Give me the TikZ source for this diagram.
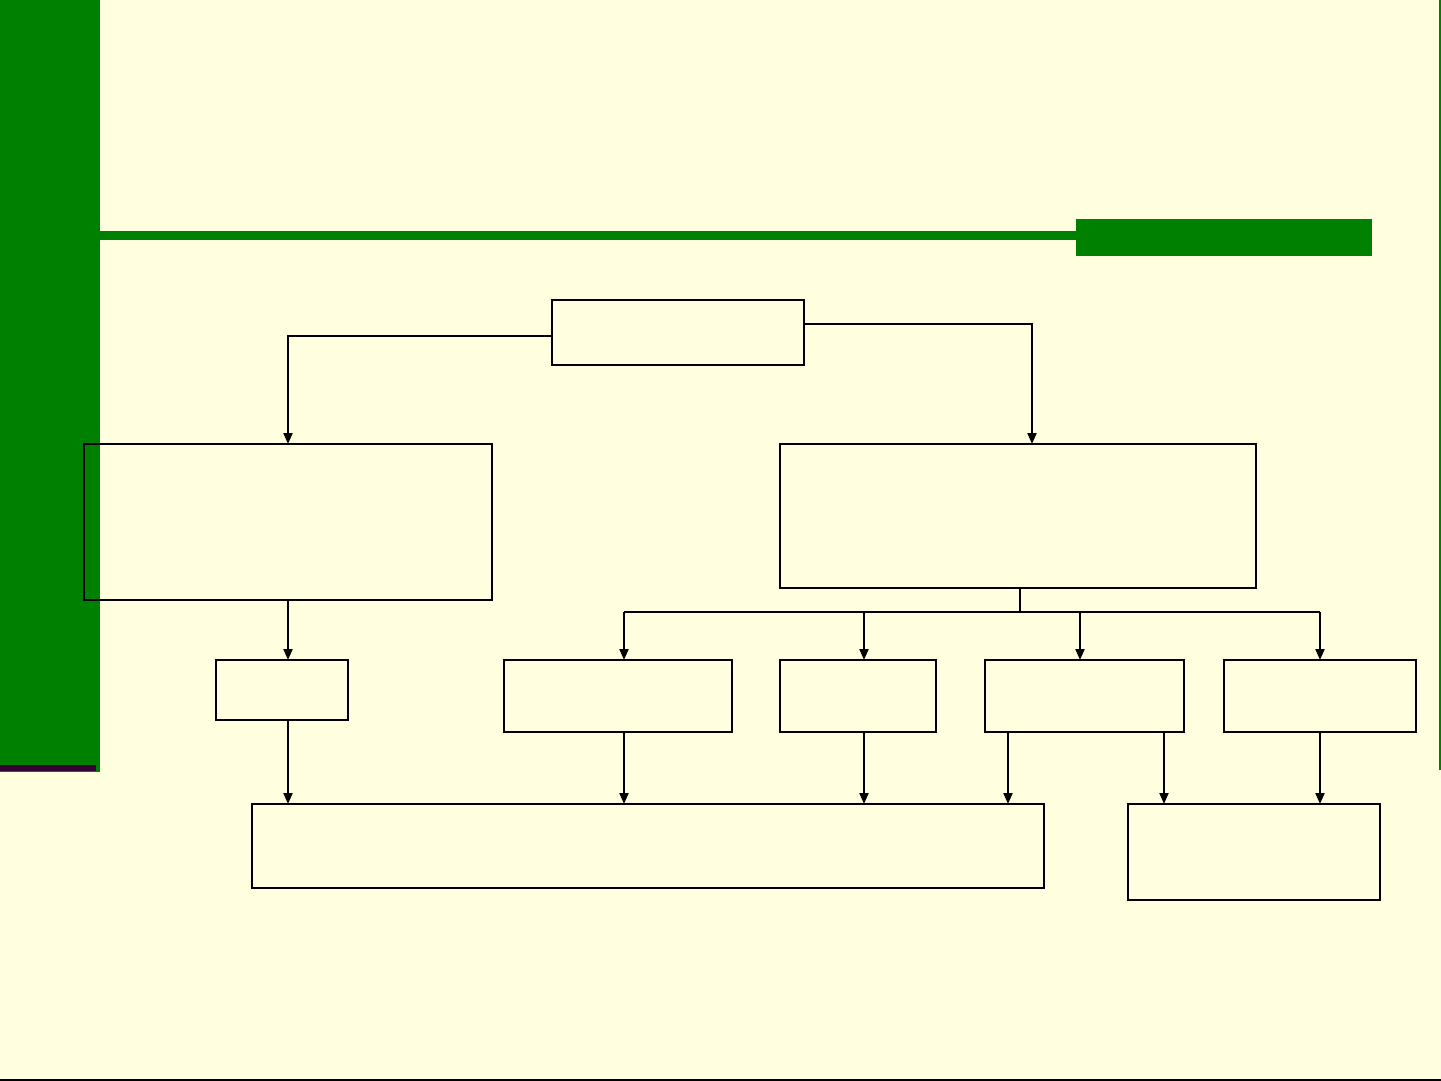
\documentclass[tikz,border=0pt]{standalone}
\usetikzlibrary{arrows.meta}
\definecolor{bg}{RGB}{255,255,224}
\definecolor{gr}{RGB}{0,128,0}
\definecolor{pu}{RGB}{51,0,51}
\begin{document}
\begin{tikzpicture}[x=1pt,y=-1pt,
  box/.style={draw=black,line width=2pt,rectangle,inner sep=0pt,outer sep=0pt,anchor=north west},
  ln/.style={draw=black,line width=2pt},
  arr/.style={ln,-{Triangle[length=11pt,width=9pt]}}]
\fill[bg] (0,0) rectangle (1441,1081);
\useasboundingbox (0,0) rectangle (1441,1081);
% decorations
\fill[gr] (0,0) rectangle (100,772);
\fill[pu] (0,765) rectangle (96,771);
\fill[gr] (100,231) rectangle (1076,240);
\fill[gr] (1076,219) rectangle (1372,256);
\draw[gr,line width=1.5pt] (1440,0) -- (1440,770);
\draw[black,line width=2pt] (0,1080) -- (1441,1080);
% boxes
\node[box,minimum width=252pt,minimum height=65pt] (T) at (552,300) {};
\node[box,minimum width=408pt,minimum height=156pt] (L) at (84,444) {};
\node[box,minimum width=476pt,minimum height=144pt] (R) at (780,444) {};
\node[box,minimum width=132pt,minimum height=60pt] (A) at (216,660) {};
\node[box,minimum width=228pt,minimum height=72pt] (B) at (504,660) {};
\node[box,minimum width=156pt,minimum height=72pt] (C) at (780,660) {};
\node[box,minimum width=199pt,minimum height=72pt] (D) at (985,660) {};
\node[box,minimum width=192pt,minimum height=72pt] (E) at (1224,660) {};
\node[box,minimum width=792pt,minimum height=84pt] (M) at (252,804) {};
\node[box,minimum width=252pt,minimum height=96pt] (N) at (1128,804) {};
% connectors
\coordinate (tl) at (288,336);
\coordinate (tr) at (1032,324);
\draw[arr] (T.west |- tl) -| (L.north -| tl);
\draw[arr] (T.east |- tr) -| (R.north -| tr);
\draw[arr] (L.south -| tl) -- (A.north -| tl);
\coordinate (bj) at (1020,612);
\coordinate (b1) at (624,612);
\coordinate (b2) at (864,612);
\coordinate (b3) at (1080,612);
\coordinate (b4) at (1320,612);
\draw[ln] (R.south -| bj) -- (bj);
\draw[ln] (b1) -- (b4);
\draw[arr] (b1) -- (B.north -| b1);
\draw[arr] (b2) -- (C.north -| b2);
\draw[arr] (b3) -- (D.north -| b3);
\draw[arr] (b4) -- (E.north -| b4);
\draw[arr] (A.south -| tl) -- (M.north -| tl);
\draw[arr] (B.south -| b1) -- (M.north -| b1);
\draw[arr] (C.south -| b2) -- (M.north -| b2);
\coordinate (d1) at (1008,0);
\coordinate (d2) at (1164,0);
\draw[arr] (D.south -| d1) -- (M.north -| d1);
\draw[arr] (D.south -| d2) -- (N.north -| d2);
\draw[arr] (E.south -| b4) -- (N.north -| b4);
\end{tikzpicture}
\end{document}
